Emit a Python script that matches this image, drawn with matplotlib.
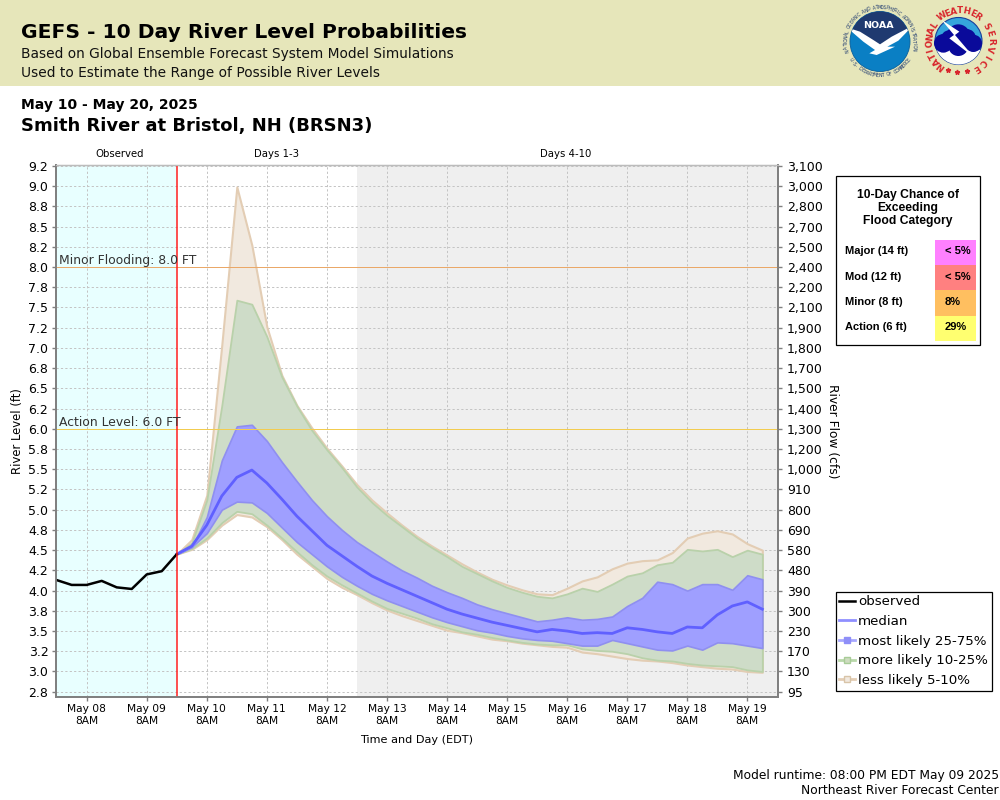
import numpy as np
import pandas as pd
import matplotlib
matplotlib.use('Agg')
import matplotlib.pyplot as plt
from matplotlib.lines import Line2D
from matplotlib.patches import Circle, Polygon, Rectangle

# river level in ft
observed = [4.13, 4.07, 4.07, 4.12, 4.04, 4.02, 4.20, 4.24, 4.45]

median = [4.45, 4.55, 4.81, 5.17, 5.40, 5.49, 5.33, 5.13, 4.92, 4.74,
          4.56, 4.43, 4.30, 4.18, 4.09, 4.01, 3.93, 3.85, 3.77, 3.71,
          3.66, 3.61, 3.57, 3.53, 3.49, 3.52, 3.50, 3.47, 3.48, 3.47,
          3.54, 3.52, 3.49, 3.47, 3.55, 3.54, 3.70, 3.81, 3.86, 3.77]
q75 = [4.45, 4.54, 4.91, 5.61, 6.03, 6.05, 5.85, 5.59, 5.35, 5.12,
       4.92, 4.75, 4.60, 4.48, 4.36, 4.25, 4.16, 4.06, 3.98, 3.91,
       3.83, 3.77, 3.72, 3.67, 3.62, 3.64, 3.67, 3.64, 3.65, 3.68,
       3.81, 3.91, 4.11, 4.08, 4.00, 4.08, 4.08, 4.01, 4.19, 4.14]
q25 = [4.45, 4.54, 4.71, 5.00, 5.10, 5.09, 4.96, 4.78, 4.60, 4.45,
       4.30, 4.17, 4.06, 3.96, 3.88, 3.81, 3.74, 3.67, 3.61, 3.56,
       3.51, 3.48, 3.44, 3.41, 3.39, 3.38, 3.35, 3.32, 3.32, 3.39,
       3.35, 3.31, 3.27, 3.26, 3.32, 3.27, 3.36, 3.35, 3.32, 3.29]
q90 = [4.45, 4.59, 5.12, 6.29, 7.59, 7.54, 7.14, 6.64, 6.28, 5.98,
       5.74, 5.52, 5.28, 5.09, 4.93, 4.79, 4.65, 4.53, 4.42, 4.30,
       4.21, 4.12, 4.04, 3.98, 3.93, 3.91, 3.96, 4.03, 3.99, 4.08,
       4.18, 4.22, 4.32, 4.35, 4.51, 4.49, 4.51, 4.42, 4.50, 4.45]
q10 = [4.45, 4.52, 4.65, 4.84, 4.98, 4.95, 4.81, 4.65, 4.48, 4.32,
       4.18, 4.07, 3.97, 3.87, 3.78, 3.72, 3.66, 3.59, 3.54, 3.49,
       3.46, 3.42, 3.39, 3.36, 3.34, 3.33, 3.33, 3.28, 3.26, 3.25,
       3.22, 3.17, 3.14, 3.13, 3.10, 3.08, 3.07, 3.06, 3.02, 3.00]
q95 = [4.45, 4.63, 5.18, 7.04, 8.99, 8.27, 7.26, 6.66, 6.29, 6.01,
       5.76, 5.54, 5.31, 5.12, 4.96, 4.81, 4.67, 4.55, 4.44, 4.33,
       4.23, 4.14, 4.07, 4.01, 3.96, 3.95, 4.03, 4.12, 4.17, 4.27,
       4.34, 4.37, 4.38, 4.47, 4.65, 4.71, 4.74, 4.70, 4.58, 4.50]
q5 = [4.45, 4.51, 4.63, 4.81, 4.94, 4.91, 4.79, 4.63, 4.45, 4.30,
      4.15, 4.04, 3.95, 3.85, 3.76, 3.69, 3.63, 3.57, 3.51, 3.48,
      3.44, 3.40, 3.38, 3.35, 3.33, 3.31, 3.30, 3.24, 3.22, 3.19,
      3.16, 3.14, 3.13, 3.11, 3.08, 3.06, 3.04, 3.03, 3.00, 2.99]

stage_ticks = np.arange(2.75, 9.5, 0.25)
flow_labels = ['95', '130', '170', '230', '300', '390', '480', '580', '690',
               '800', '910', '1,000', '1,200', '1,300', '1,400', '1,500',
               '1,700', '1,800', '1,900', '2,100', '2,200', '2,400', '2,500',
               '2,700', '2,800', '3,000', '3,100']

obs_times = pd.date_range('2025-05-07 20:00', periods=len(observed), freq='6h')
fc_times = pd.date_range('2025-05-09 20:00', periods=len(median), freq='6h')
day_ticks = pd.date_range('2025-05-08 08:00', '2025-05-19 08:00', freq='24h')
day_labels = [d.strftime('%b %d') + '\n8AM' for d in day_ticks]

chance_rows = ['Major (14 ft)', 'Mod (12 ft)', 'Minor (8 ft)', 'Action (6 ft)']
chance_vals = ['< 5%', '< 5%', '8%', '29%']
chance_cols = ['#ff80ff', '#ff8080', '#ffbf60', '#ffff70']

fig = plt.figure(figsize=(10, 8), dpi=100)

# full figure layer in pixel coords for banner, table and logos
bg = fig.add_axes([0, 0, 1, 1], zorder=0)
bg.set_xlim(0, 1000)
bg.set_ylim(800, 0)
bg.axis('off')

bg.add_patch(Rectangle((0, 0), 1000, 85.5, color='#e6e6ba', lw=0))
bg.text(21, 33, 'GEFS - 10 Day River Level Probabilities', fontsize=14.6, fontweight='bold', va='center')
bg.text(21, 54, 'Based on Global Ensemble Forecast System Model Simulations', fontsize=9.9, va='center', color='#111111')
bg.text(21, 73, 'Used to Estimate the Range of Possible River Levels', fontsize=9.9, va='center', color='#111111')
bg.text(21, 105, 'May 10 - May 20, 2025', fontsize=10, fontweight='bold', va='center')
bg.text(21, 126, 'Smith River at Bristol, NH (BRSN3)', fontsize=13, fontweight='bold', va='center')

bg.text(120, 154, 'Observed', fontsize=7.3, ha='center', va='center')
bg.text(276, 154, 'Days 1-3', fontsize=7.3, ha='center', va='center')
bg.text(566, 154, 'Days 4-10', fontsize=7.3, ha='center', va='center')

bg.text(18, 431, 'River Level (ft)', fontsize=8.4, rotation=90, ha='center', va='center')
bg.text(832, 431, 'River Flow (cfs)', fontsize=8.8, rotation=-90, ha='center', va='center')
bg.text(417, 740, 'Time and Day (EDT)', fontsize=8.1, ha='center', va='center')
bg.text(999, 775, 'Model runtime: 08:00 PM EDT May 09 2025', fontsize=8.85, ha='right', va='center')
bg.text(999, 791, 'Northeast River Forecast Center', fontsize=8.85, ha='right', va='center')

# flood category table
bg.add_patch(Rectangle((836, 176), 144, 169, fc='white', ec='black', lw=0.9))
bg.text(908, 195, '10-Day Chance of', fontsize=8.75, fontweight='bold', family='Liberation Sans', ha='center', va='center')
bg.text(908, 208, 'Exceeding', fontsize=8.75, fontweight='bold', family='Liberation Sans', ha='center', va='center')
bg.text(908, 221, 'Flood Category', fontsize=8.75, fontweight='bold', family='Liberation Sans', ha='center', va='center')
for i in range(len(chance_rows)):
    top = 240 + 25.2 * i
    bg.add_patch(Rectangle((935, top), 41, 25.2, color=chance_cols[i], lw=0))
    bg.text(845, top + 11.5, chance_rows[i], fontsize=8, fontweight='bold', family='Liberation Sans', va='center')
    bg.text(945, top + 11.5, chance_vals[i], fontsize=8, fontweight='bold', family='Liberation Sans', va='center')


def arc_text(s, cx, cy, r, a0, a1, color, size, weight='normal', bottom=False):
    # one rotated letter at a time around a circle
    angles = np.radians(np.linspace(a0, a1, len(s)))
    for ch, a in zip(s, angles):
        rot = np.degrees(a) + 90 if bottom else np.degrees(a) - 90
        bg.text(cx + r * np.cos(a), cy - r * np.sin(a), ch, rotation=rot, rotation_mode='anchor',
                color=color, fontsize=size, fontweight=weight, ha='center', va='center')


def zoomed(points):
    # logo outlines were measured on a 3x crop starting at x=830
    return [(830 + x / 3, y / 3) for x, y in points]


# NOAA logo
disc = Circle((880, 41.5), 30, fc='#0a7fc4', ec='#0a5f9c', lw=0.6)
bg.add_patch(disc)
navy = Polygon(zoomed([(40, 0), (260, 0), (260, 80), (150, 140), (50, 85)]), fc='#1f3a70', lw=0)
bg.add_patch(navy)
navy.set_clip_path(disc)
bird = Polygon(zoomed([(50, 82), (90, 95), (130, 120), (150, 133), (185, 110), (250, 76), (205, 122),
                       (172, 140), (195, 140), (140, 165), (118, 160), (135, 150), (100, 125)]),
               fc='white', lw=0)
bg.add_patch(bird)
bird.set_clip_path(disc)
bg.text(878, 25, 'NOAA', color='white', fontsize=6.8, fontweight='bold', ha='center', va='center')
arc_text('NATIONAL OCEANIC AND ATMOSPHERIC ADMINISTRATION', 880, 41.5, 34, 195, -12, '#1f3a70', 3.3)
arc_text('U.S. DEPARTMENT OF COMMERCE', 880, 41.5, 34, 212, 328, '#1f3a70', 3.3, bottom=True)

# NWS logo
sky = Circle((958.5, 41), 23.5, fc='#35a5dc', ec='#1a3f9c', lw=0.8)
bg.add_patch(sky)
lower = Polygon(zoomed([(300, 150), (470, 150), (470, 200), (300, 200)]), fc='white', lw=0)
bg.add_patch(lower)
lower.set_clip_path(sky)
for x, y, r in [(340, 130, 28), (385, 108, 35), (430, 130, 26), (385, 138, 30), (360, 118, 28), (410, 115, 28)]:
    bg.add_patch(Circle((830 + x / 3, y / 3), r / 3, fc='#0a0a9a', lw=0))
bg.add_patch(Polygon(zoomed([(335, 60), (388, 95), (375, 105), (432, 172), (358, 115), (372, 105)]), fc='white', lw=0))
arc_text('NATIONAL', 960, 41.5, 30.5, 232, 147, '#d8262c', 6.3, 'bold')
arc_text('WEATHER', 960, 41.5, 30.5, 125, 54, '#d8262c', 6.3, 'bold')
arc_text('SERVICE', 960, 41.5, 30.5, 30, -58, '#d8262c', 6.3, 'bold')
bg.plot([948, 957, 967], [70, 72, 71], ls='none', marker='*', ms=3.5, color='#d8262c')

# main chart
ax = fig.add_axes([55.7 / 1000, 1 - 697.3 / 800, 722.6 / 1000, 532.8 / 800], zorder=2)
x0 = pd.Timestamp('2025-05-07 19:37')
x1 = pd.Timestamp('2025-05-19 20:23')
split = pd.Timestamp('2025-05-09 20:00')
split2 = pd.Timestamp('2025-05-12 20:00')
ax.set_xlim(x0, x1)
ax.set_ylim(2.681, 9.267)

ax.axvspan(x0, split, color='#e8ffff', lw=0, zorder=0)
ax.axvspan(split2, x1, color='#efefef', lw=0, zorder=0)
ax.grid(True, color='#c4c4c4', ls=(0, (2.2, 2.2)), lw=0.72, zorder=1)
ax.set_axisbelow(True)

ax.fill_between(fc_times, q5, q95, fc='#f1e9df', ec='#e3cdb4', lw=1.5, zorder=2)
ax.fill_between(fc_times, q10, q90, fc='#cedcc8', ec='#b9d1aa', lw=1.3, zorder=3)
ax.fill_between(fc_times, q25, q75, fc='#9f9fff', ec='#8f8ff0', lw=1.2, zorder=4)
ax.plot(fc_times, median, color='#6060ff', lw=2, zorder=5)
ax.plot(obs_times, observed, color='black', lw=1.8, zorder=5)

ax.axhline(8.0, color='#eaa868', lw=0.72, zorder=6)
ax.axhline(6.0, color='#f2cc50', lw=0.72, zorder=6)
ax.axvline(split, color='#ff2020', lw=1.1, zorder=7)

yt = ax.get_yaxis_transform()
ax.annotate('Minor Flooding: 8.0 FT', (0, 8.0), xycoords=yt, xytext=(2.5, 2), textcoords='offset points',
            fontsize=8.95, color='#333333', zorder=8, annotation_clip=False)
ax.annotate('Action Level: 6.0 FT', (0, 6.0), xycoords=yt, xytext=(2.5, 2), textcoords='offset points',
            fontsize=8.95, color='#333333', zorder=8, annotation_clip=False)

ax.set_xticks(day_ticks)
ax.set_xticklabels(day_labels, fontsize=7.7, linespacing=1.25)
ax.set_yticks(stage_ticks)
ax.set_yticklabels(['%.1f' % v for v in stage_ticks], fontsize=9)
ax.tick_params(axis='y', color='#808080', length=2.8, width=1, pad=2.5)
ax.tick_params(axis='x', color='#808080', length=2.8, width=1, pad=2)

right = ax.twinx()
right.set_ylim(ax.get_ylim())
right.set_yticks(stage_ticks)
right.set_yticklabels(flow_labels, fontsize=9)
right.tick_params(axis='y', color='#808080', length=2.8, width=1, pad=3.5)

for a in (ax, right):
    for name in ('left', 'bottom', 'right'):
        a.spines[name].set_color('#808080')
        a.spines[name].set_linewidth(1.3)
    a.spines['top'].set_color('#bcbcbc')
    a.spines['top'].set_linewidth(0.9)

handles = [
    Line2D([], [], color='black', lw=1.8),
    Line2D([], [], color='#8f8fff', lw=2),
    Line2D([], [], color='#a8a8ff', lw=2, marker='s', ms=5, mfc='#8f8ff8', mec='#8f8ff8'),
    Line2D([], [], color='#b9d8aa', lw=2, marker='s', ms=5, mfc='#cedcc0', mec='#a8cc98'),
    Line2D([], [], color='#e3cdb4', lw=2, marker='s', ms=5, mfc='#f1e9df', mec='#d8c4a8'),
]
names = ['observed', 'median', 'most likely 25-75%', 'more likely 10-25%', 'less likely 5-10%']
leg = fig.legend(handles, names, loc='upper left', bbox_to_anchor=(835.5 / 1000, 1 - 591.5 / 800),
                 borderaxespad=0, fontsize=9.65, frameon=True, fancybox=False, framealpha=1,
                 edgecolor='black', handlelength=1.2, handletextpad=0.2, labelspacing=0.5,
                 borderpad=0.28)
leg.get_frame().set_linewidth(0.9)

fig.savefig('out.png', dpi=100)
